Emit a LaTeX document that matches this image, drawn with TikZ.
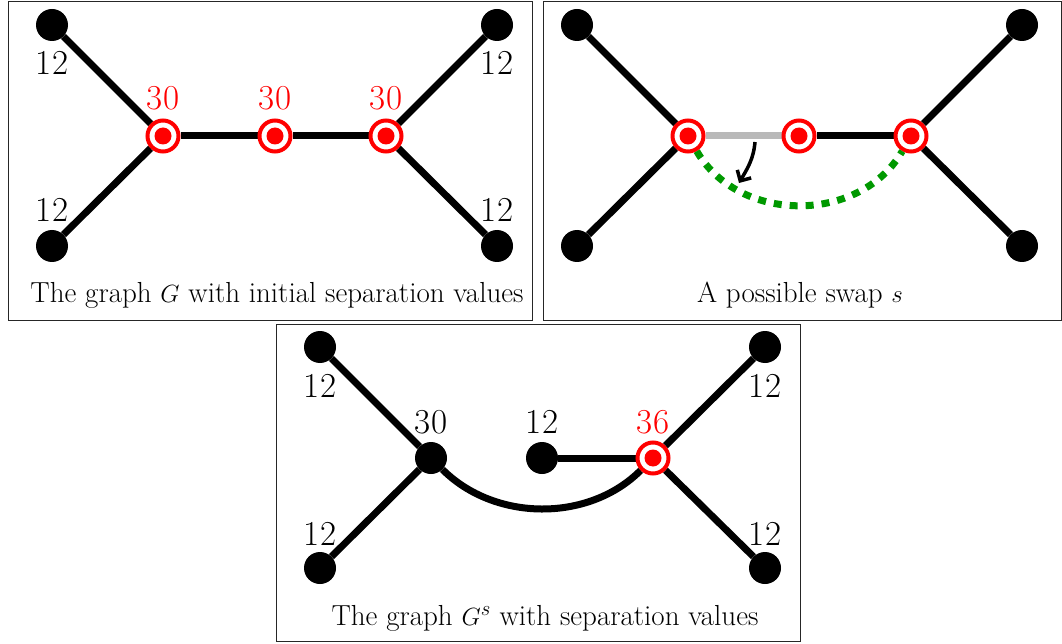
\documentclass[tikz,border=0pt]{standalone}
\usetikzlibrary{arrows.meta,backgrounds}
\begin{document}
\begin{tikzpicture}[x=1pt,y=-1pt,
  bnode/.style={circle,fill=black,minimum size=32pt,inner sep=0pt},
  rnode/.style={circle,draw=red,line width=4pt,fill=white,minimum size=31pt,inner sep=0pt,
     path picture={\fill[red] (path picture bounding box.center) circle (8.5pt);}},
  gedge/.style={line width=7pt},
  lbl/.style={anchor=base,inner sep=0pt,font=\fontsize{35}{42}\selectfont},
  rlbl/.style={lbl,text=red},
  captxt/.style={anchor=base,inner sep=0pt,font=\fontsize{29}{35}\selectfont},
  frm/.style={draw=black!85,line width=1pt}]
\useasboundingbox (0,0) rectangle (1062,644);
% frames
\draw[frm] (8,2) rectangle (532,320);
\draw[frm] (543,2) rectangle (1061,320);
\draw[frm] (276,324) rectangle (800,641);

% ---------- panel 1 ----------
\node[bnode] (a1) at (52,25) {};
\node[bnode] (a2) at (52,246) {};
\node[rnode] (a3) at (163,136) {};
\node[rnode] (a4) at (275,136) {};
\node[rnode] (a5) at (386,136) {};
\node[bnode] (a6) at (497,25) {};
\node[bnode] (a7) at (497,246) {};
\begin{scope}[on background layer]
\draw[gedge] (a1) -- (a3);
\draw[gedge] (a2) -- (a3);
\draw[gedge] (a3) -- (a4);
\draw[gedge] (a4) -- (a5);
\draw[gedge] (a5) -- (a6);
\draw[gedge] (a5) -- (a7);
\end{scope}
\node[lbl] (la1) at (52,75) {12};
\node[lbl] (la2) at (52,222) {12};
\node[rlbl] (la3) at (163,110) {30};
\node[rlbl] (la4) at (275,110) {30};
\node[rlbl] (la5) at (386,110) {30};
\node[lbl] (la6) at (497,75) {12};
\node[lbl] (la7) at (497,222) {12};
\node[captxt] (ca) at (277,302) {The graph $G$ with initial separation values};

% ---------- panel 2 ----------
\node[bnode] (b1) at (577,25) {};
\node[bnode] (b2) at (577,246) {};
\node[rnode] (b3) at (688,136) {};
\node[rnode] (b4) at (799,136) {};
\node[rnode] (b5) at (911,136) {};
\node[bnode] (b6) at (1022,25) {};
\node[bnode] (b7) at (1022,246) {};
\begin{scope}[on background layer]
\draw[gedge] (b1) -- (b3);
\draw[gedge] (b2) -- (b3);
\draw[gedge,gray!55] (b3) -- (b4);
\draw[gedge] (b4) -- (b5);
\draw[gedge] (b5) -- (b6);
\draw[gedge] (b5) -- (b7);
\end{scope}
\draw[gedge,green!60!black,dash pattern=on 8pt off 8pt]
  (b3) to[out=-60,in=-120,looseness=1.05] (b5);
\coordinate (s1) at (755,142);
\coordinate (s2) at (739,183);
\draw[line width=3.5pt,-{Straight Barb[length=8pt,width=16pt]}]
  (s1) to[out=-95,in=60] (s2);
\node[captxt] (cb) at (800,302) {A possible swap $s$};

% ---------- panel 3 ----------
\node[bnode] (c1) at (320,347) {};
\node[bnode] (c2) at (320,568) {};
\node[bnode] (c3) at (431,458) {};
\node[bnode] (c4) at (542,458) {};
\node[rnode] (c5) at (653,458) {};
\node[bnode] (c6) at (765,347) {};
\node[bnode] (c7) at (765,568) {};
\begin{scope}[on background layer]
\draw[gedge] (c1) -- (c3);
\draw[gedge] (c2) -- (c3);
\draw[gedge] (c4) -- (c5);
\draw[gedge] (c5) -- (c6);
\draw[gedge] (c5) -- (c7);
\draw[gedge] (c3) to[out=-45,in=-135,looseness=0.95] (c5);
\end{scope}
\node[lbl] (lc1) at (320,397) {12};
\node[lbl] (lc2) at (320,545) {12};
\node[lbl] (lc3) at (431,433) {30};
\node[lbl] (lc4) at (542,433) {12};
\node[rlbl] (lc5) at (653,433) {36};
\node[lbl] (lc6) at (765,397) {12};
\node[lbl] (lc7) at (765,545) {12};
\node[captxt] (cc) at (545,625) {The graph $G^s$ with separation values};
\end{tikzpicture}
\end{document}
